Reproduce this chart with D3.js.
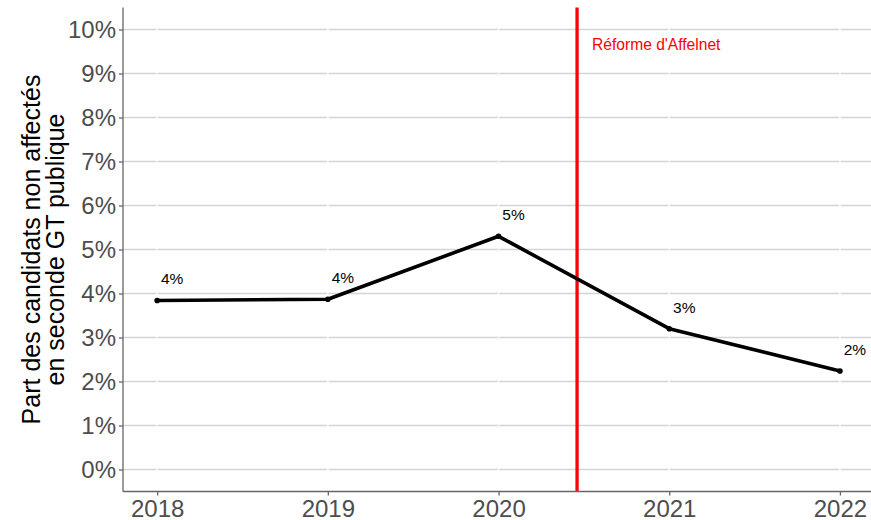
<!DOCTYPE html>
<html>
<head>
<meta charset="utf-8">
<script src="https://cdn.jsdelivr.net/npm/d3@7"></script>
<style>
  body { margin: 0; background: #fff; }
  text { font-family: "Liberation Sans", Arial, sans-serif; }
</style>
</head>
<body>
<script>
// data
const years = [2018, 2019, 2020, 2021, 2022];
const shares = [0.0384, 0.0387, 0.0530, 0.0320, 0.0224];
const yTicks = [0, 0.01, 0.02, 0.03, 0.04, 0.05, 0.06, 0.07, 0.08, 0.09, 0.10];
const reformYear = 2020.46;
const reformLabel = "Réforme d'Affelnet";
const yTitle = ["Part des candidats non affectés", "en seconde GT publique"];

const width = 871, height = 520;
const margin = {top: 7, right: 0, bottom: 28, left: 123};

const svg = d3.select("body").append("svg")
    .attr("width", width)
    .attr("height", height);

const x = d3.scaleLinear()
    .domain([2017.8, 2022.2])
    .range([margin.left, margin.left + 4.4 * 170.7]);
const y = d3.scaleLinear()
    .domain([-0.005, 0.105])
    .range([height - margin.bottom - 0.5, margin.top + 0.5]);

const plot = svg.append("g");

// horizontal grid
plot.selectAll("line.hgrid")
    .data(yTicks)
    .enter().append("line")
    .attr("class", "hgrid")
    .attr("x1", margin.left).attr("x2", width)
    .attr("y1", d => y(d)).attr("y2", d => y(d))
    .attr("stroke", "#d4d4d4")
    .attr("stroke-width", 1.4);

// white vertical grid (cuts the horizontal lines)
plot.selectAll("line.vgrid")
    .data(years)
    .enter().append("line")
    .attr("class", "vgrid")
    .attr("x1", d => x(d)).attr("x2", d => x(d))
    .attr("y1", y.range()[1]).attr("y2", y.range()[0])
    .attr("stroke", "#fff")
    .attr("stroke-width", 1.3);

// reform line
plot.append("line")
    .attr("x1", x(reformYear)).attr("x2", x(reformYear))
    .attr("y1", y.range()[1]).attr("y2", y.range()[0])
    .attr("stroke", "#ff0000")
    .attr("stroke-width", 3.3);

plot.append("text")
    .attr("x", x(reformYear) + 15)
    .attr("y", y(0.0965))
    .attr("dominant-baseline", "central")
    .attr("fill", "#ff0000")
    .style("font-size", "15.6px")
    .text(reformLabel);

// line + points
const pts = years.map((yr, i) => [yr, shares[i]]);
plot.append("path")
    .datum(pts)
    .attr("d", d3.line().x(d => x(d[0])).y(d => y(d[1])))
    .attr("fill", "none")
    .attr("stroke", "#000")
    .attr("stroke-width", 3.6)
    .attr("stroke-linejoin", "round");

plot.selectAll("circle.pt")
    .data(pts)
    .enter().append("circle")
    .attr("class", "pt")
    .attr("cx", d => x(d[0])).attr("cy", d => y(d[1]))
    .attr("r", 2.8)
    .attr("fill", "#000");

const pct = d3.format(".0%");
plot.selectAll("text.lab")
    .data(pts)
    .enter().append("text")
    .attr("class", "lab")
    .attr("x", d => x(d[0] + 0.088))
    .attr("y", d => y(d[1] + 0.0049))
    .attr("text-anchor", "middle")
    .attr("dominant-baseline", "central")
    .style("font-size", "15.5px")
    .attr("fill", "#000")
    .text(d => pct(d[1]));

// axes
const xAxis = svg.append("g")
    .attr("transform", `translate(0,${y.range()[0]})`)
    .call(d3.axisBottom(x).tickValues(years).tickFormat(d3.format("d")).tickSize(4).tickPadding(4));
const yAxis = svg.append("g")
    .attr("transform", `translate(${margin.left},0)`)
    .call(d3.axisLeft(y).tickValues(yTicks).tickFormat(pct).tickSize(4).tickPadding(3));

[xAxis, yAxis].forEach(a => {
  a.select(".domain").attr("stroke", "#666").attr("stroke-width", 1.3);
  a.selectAll(".tick line").attr("stroke", "#666").attr("stroke-width", 1.3);
  a.selectAll(".tick text").attr("fill", "#4d4d4d").style("font-size", "24px");
});
xAxis.select(".domain").attr("d", `M${margin.left},0H${width}`);
yAxis.select(".domain").attr("d", `M0,${y.range()[1]}V${y.range()[0]}`);

// y title
const cy = (y.range()[0] + y.range()[1]) / 2;
svg.append("text")
    .attr("transform", `translate(40,${cy}) rotate(-90)`)
    .attr("text-anchor", "middle")
    .style("font-size", "25px")
    .attr("fill", "#000")
    .selectAll("tspan")
    .data(yTitle)
    .enter().append("tspan")
    .attr("x", 0)
    .attr("dy", (d, i) => i === 0 ? 0 : 23.5)
    .text(d => d);
</script>
</body>
</html>
